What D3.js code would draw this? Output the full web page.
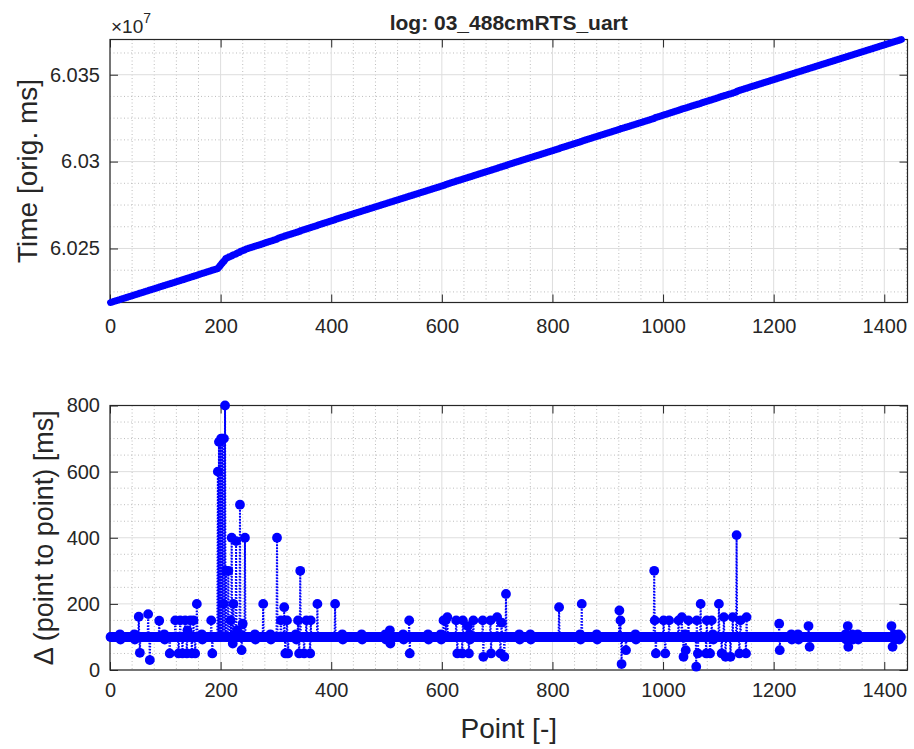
<!DOCTYPE html>
<html>
<head>
<meta charset="utf-8">
<title>log: 03_488cmRTS_uart</title>
<script src="https://cdn.jsdelivr.net/npm/d3@7"></script>
<style>
body { margin:0; background:#fff; }
text { font-family: "Liberation Sans", Arial, Helvetica, sans-serif; fill:#262626; }
</style>
</head>
<body>
<script>
var width = 914, height = 749;

// ---- data ----
var nPoints = 1431;          // points in the log (x = 1..nPoints)
var startTime = 60218910;    // first timestamp [orig. ms]
var baseDelta = 100;         // usual spacing between points [ms]

// points that leave the 100 ms band: x position and delta [ms]
var spikeX = [52, 54, 69, 72, 89, 108, 118, 124, 127, 131, 136, 139, 140, 145, 148, 151, 154, 157, 183, 185,
  195, 197, 199, 201, 203, 205, 206, 208, 210, 214, 218, 220, 222, 223, 228, 230, 235, 238, 240, 244,
  277, 302, 309, 315, 317, 320, 322, 340, 342, 344, 351, 355, 362, 363, 375, 407,
  506, 507, 541, 542, 603, 607, 610, 626, 628, 637, 638, 647, 649, 657, 674, 675, 688, 689, 700, 706, 708, 713, 716,
  812, 853, 921, 923, 925, 933,
  984, 985, 987, 1001, 1004, 1011, 1028, 1034, 1037, 1041, 1046, 1060, 1061, 1063, 1068, 1078, 1079, 1085, 1088,
  1101, 1106, 1110, 1113, 1122, 1126, 1133, 1138, 1140, 1150, 1151,
  1210, 1211, 1263, 1265, 1334, 1335, 1413, 1415];
var spikeVal = [161, 52, 169, 30, 149, 50, 150, 50, 150, 50, 150, 50, 120, 150, 50, 150, 50, 200, 150, 50,
  600, 690, 690, 700, 700, 200, 700, 800, 300, 300, 150, 400, 80, 200, 390, 120, 500, 60, 140, 400,
  200, 400, 150, 190, 50, 150, 50, 150, 50, 300, 50, 150, 50, 150, 200, 200,
  120, 80, 150, 50, 150, 150, 160, 150, 50, 50, 150, 133, 50, 150, 150, 40, 150, 50, 160, 50, 143, 40, 230,
  190, 200, 180, 150, 18, 60,
  300, 150, 50, 150, 50, 150, 150, 160, 40, 60, 150, 10, 150, 50, 200, 50, 150, 50, 150,
  200, 50, 160, 40, 40, 160, 408, 50, 150, 50, 160,
  140, 60, 133, 70, 133, 70, 133, 70];

// places where the band gets fatter: a point a bit above, the next a bit below
var wobbleX = [18, 44, 98, 166, 262, 290, 336, 420, 455, 498, 530, 575, 598, 650, 740, 760, 850, 880,
  950, 1040, 1090, 1232, 1244, 1330, 1342, 1352, 1418, 1426];
var wobbleVal = [108, 92];

var xTicks = [0, 200, 400, 600, 800, 1000, 1200, 1400];
var timeTicks = [60250000, 60300000, 60350000];
var deltaTicks = [0, 200, 400, 600, 800];

// ---- build series ----
var deltas = d3.range(1, nPoints).map(function(x) { return {x: x, v: baseDelta}; });
wobbleX.forEach(function(x) {
  deltas[x - 1].v = wobbleVal[0];
  deltas[x].v = wobbleVal[1];
});
spikeX.forEach(function(x, i) { deltas[x - 1].v = spikeVal[i]; });

var times = [{x: 1, t: startTime}];
deltas.forEach(function(d) {
  times.push({x: d.x + 1, t: times[times.length - 1].t + d.v});
});

// ---- layout ----
var top1 = {left: 110, right: 907.5, top: 39.5, bottom: 302.5};
var bot1 = {left: 110, right: 907.5, top: 405.5, bottom: 670};
var ink = "#262626";

var svg = d3.select("body").append("svg")
  .attr("width", width).attr("height", height);
svg.append("rect").attr("width", width).attr("height", height).attr("fill", "#fff");

var x = d3.scaleLinear().domain([0, 1442]).range([top1.left, top1.right]);
var yT = d3.scaleLinear().domain(d3.extent(times, function(d) { return d.t; })).range([top1.bottom, top1.top]);
var yB = d3.scaleLinear().domain([0, 800]).range([bot1.bottom, bot1.top]);

function grid(box, ys, yMinor, yMajor) {
  var g = svg.append("g");
  var xMinor = d3.range(0, 1442, 40).filter(function(v) { return v % 200 != 0; });
  g.selectAll(".mx").data(xMinor).enter().append("line")
    .attr("x1", x).attr("x2", x).attr("y1", box.top).attr("y2", box.bottom)
    .attr("stroke", "#bdbdbd").attr("stroke-dasharray", "1,2.5");
  g.selectAll(".my").data(yMinor).enter().append("line")
    .attr("y1", ys).attr("y2", ys).attr("x1", box.left).attr("x2", box.right)
    .attr("stroke", "#bdbdbd").attr("stroke-dasharray", "1,2.5");
  g.selectAll(".gx").data(xTicks).enter().append("line")
    .attr("x1", x).attr("x2", x).attr("y1", box.top).attr("y2", box.bottom)
    .attr("stroke", "#dedede");
  g.selectAll(".gy").data(yMajor).enter().append("line")
    .attr("y1", ys).attr("y2", ys).attr("x1", box.left).attr("x2", box.right)
    .attr("stroke", "#dedede");
}

function frame(box, ys, yTicks, fmt, xPad) {
  var style = function(g) {
    g.select(".domain").remove();
    g.selectAll(".tick line").attr("stroke", ink);
    g.selectAll(".tick text").attr("fill", ink).style("font-size", "20px");
  };
  svg.append("g").attr("transform", "translate(0," + box.bottom + ")")
    .call(d3.axisBottom(x).tickValues(xTicks).tickSize(-8).tickPadding(xPad).tickFormat(d3.format("d")))
    .call(style);
  svg.append("g").attr("transform", "translate(0," + box.top + ")")
    .call(d3.axisTop(x).tickValues(xTicks).tickSize(-8).tickFormat(""))
    .call(style);
  svg.append("g").attr("transform", "translate(" + box.left + ",0)")
    .call(d3.axisLeft(ys).tickValues(yTicks).tickSize(-8).tickPadding(10).tickFormat(fmt))
    .call(style);
  svg.append("g").attr("transform", "translate(" + box.right + ",0)")
    .call(d3.axisRight(ys).tickValues(yTicks).tickSize(-8).tickFormat(""))
    .call(style);
  svg.append("rect")
    .attr("x", box.left).attr("y", box.top)
    .attr("width", box.right - box.left).attr("height", box.bottom - box.top)
    .attr("fill", "none").attr("stroke", ink).attr("stroke-width", 1.2);
}

// top panel
var tMinor = d3.range(Math.ceil(yT.domain()[0] / 12500) * 12500, yT.domain()[1], 12500)
  .filter(function(v) { return v % 50000 != 0; });
grid(top1, yT, tMinor, timeTicks);
frame(top1, yT, timeTicks, function(v) { return String(+(v / 1e7).toFixed(4)); }, 16);

svg.append("path").datum(times)
  .attr("d", d3.line().x(function(d) { return x(d.x); }).y(function(d) { return yT(d.t); }))
  .attr("fill", "none").attr("stroke", "#0000ff").attr("stroke-width", 7)
  .attr("stroke-linecap", "round").attr("stroke-linejoin", "round");

// bottom panel
var dMinor = d3.range(50, 800, 50).filter(function(v) { return v % 200 != 0; });
grid(bot1, yB, dMinor, deltaTicks);
frame(bot1, yB, deltaTicks, d3.format("d"), 13);

svg.append("path").datum(deltas)
  .attr("d", d3.line().x(function(d) { return x(d.x); }).y(function(d) { return yB(d.v); }))
  .attr("fill", "none").attr("stroke", "#0000ff").attr("stroke-width", 2)
  .attr("stroke-dasharray", "1.5,1.5");
svg.append("g").selectAll("circle").data(deltas).enter().append("circle")
  .attr("cx", function(d) { return x(d.x); })
  .attr("cy", function(d) { return yB(d.v); })
  .attr("r", 4.9).attr("fill", "#0000ff");

// texts
svg.append("text").attr("x", (top1.left + top1.right) / 2).attr("y", 30)
  .attr("text-anchor", "middle").style("font-size", "21px").style("font-weight", "bold")
  .text("log: 03_488cmRTS_uart");

var ex = svg.append("text").attr("x", 111).attr("y", 33).style("font-size", "19px");
ex.append("tspan").text("\u00d710");
ex.append("tspan").attr("dy", -10).style("font-size", "14px").text("7");

svg.append("text")
  .attr("transform", "translate(37," + (top1.top + top1.bottom) / 2 + ") rotate(-90)")
  .attr("text-anchor", "middle").style("font-size", "28px")
  .text("Time [orig. ms]");
svg.append("text")
  .attr("transform", "translate(53," + (bot1.top + bot1.bottom) / 2 + ") rotate(-90)")
  .attr("text-anchor", "middle").style("font-size", "27px")
  .text("\u0394 (point to point) [ms]");
svg.append("text").attr("x", (bot1.left + bot1.right) / 2).attr("y", 738)
  .attr("text-anchor", "middle").style("font-size", "28px")
  .text("Point [-]");
</script>
</body>
</html>
